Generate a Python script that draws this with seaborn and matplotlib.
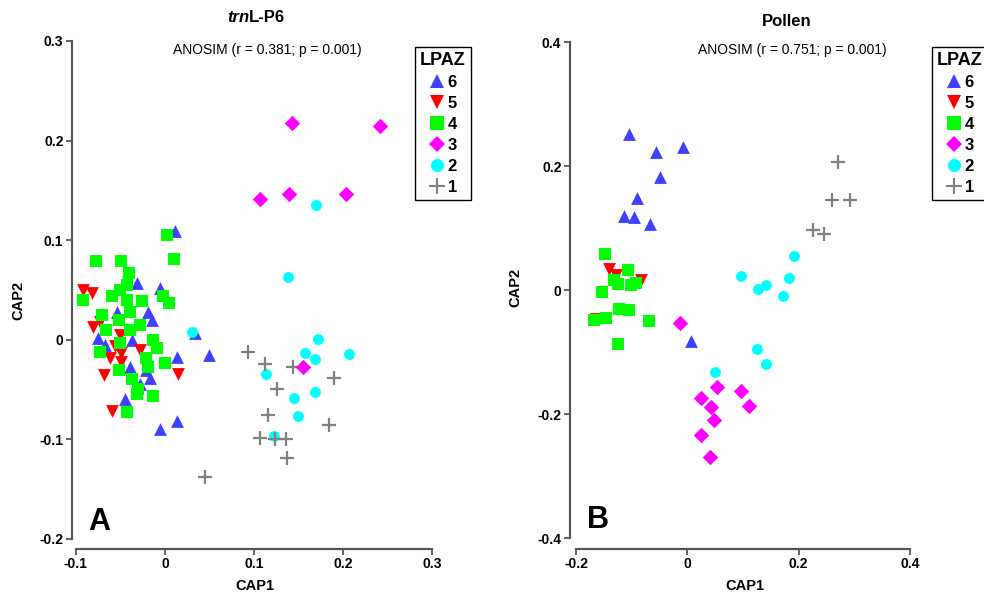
import matplotlib
matplotlib.use("Agg")
import matplotlib.pyplot as plt
import pandas as pd
import seaborn as sns
from matplotlib.lines import Line2D
from matplotlib import font_manager

# ---------------- data ----------------
zones = ["6", "5", "4", "3", "2", "1"]
zone_colors = {"6": "#4040FF", "5": "#FF0000", "4": "#00FF00",
               "3": "#FF00FF", "2": "#00FFFF", "1": "#808080"}
zone_markers = {"6": "^", "5": "v", "4": "s", "3": "D", "2": "o", "1": "+"}
zone_sizes = {"6": 85, "5": 85, "4": 70, "3": 62, "2": 62, "1": 100}
legend_msize = {"6": 10, "5": 10, "4": 9.5, "3": 8.5, "2": 9.5, "1": 11}
draw_order = ["6", "5", "4", "2", "1", "3"]

# trnL-P6 CAP scores by zone
trnl_z6_x = [0.011, -0.032, -0.006, -0.054, -0.019, -0.015, -0.075, -0.037, 0.013, 0.049,
             0.034, -0.039, -0.021, -0.028, -0.045, -0.006, 0.013, -0.067, -0.017]
trnl_z6_y = [0.109, 0.057, 0.052, 0.028, 0.028, 0.020, 0.002, 0.000, -0.017, -0.015,
             0.007, -0.027, -0.030, -0.044, -0.059, -0.090, -0.082, -0.005, -0.038]
trnl_z5_x = [-0.092, -0.082, -0.081, -0.073, -0.062, -0.056, -0.049, -0.049, -0.028,
             -0.069, 0.015, -0.060, -0.051]
trnl_z5_y = [0.050, 0.047, 0.013, 0.018, -0.018, -0.006, -0.013, -0.022, -0.010,
             -0.035, -0.034, -0.071, 0.005]
trnl_z4_x = [-0.078, -0.049, 0.010, -0.041, -0.043, -0.051, -0.092, -0.060, -0.043, -0.026,
             -0.002, 0.004, -0.071, -0.039, -0.052, -0.066, -0.028, -0.039, -0.051, -0.073,
             -0.013, -0.009, -0.021, 0.000, -0.052, -0.019, -0.037, -0.030, -0.032, -0.014,
             -0.043, 0.002]
trnl_z4_y = [0.079, 0.079, 0.081, 0.067, 0.055, 0.050, 0.040, 0.044, 0.040, 0.039,
             0.044, 0.037, 0.025, 0.028, 0.020, 0.010, 0.015, 0.010, -0.003, -0.012,
             0.000, -0.008, -0.018, -0.023, -0.030, -0.027, -0.039, -0.049, -0.054, -0.056,
             -0.072, 0.105]
trnl_z3_x = [0.143, 0.242, 0.107, 0.139, 0.203, 0.155]
trnl_z3_y = [0.218, 0.215, 0.141, 0.146, 0.146, -0.027]
trnl_z2_x = [0.170, 0.138, 0.030, 0.172, 0.157, 0.169, 0.207, 0.113, 0.145, 0.169, 0.149, 0.123]
trnl_z2_y = [0.135, 0.063, 0.008, 0.001, -0.013, -0.019, -0.014, -0.034, -0.058, -0.052,
             -0.077, -0.097]
trnl_z1_x = [0.093, 0.112, 0.144, 0.190, 0.126, 0.116, 0.184, 0.107, 0.124, 0.136, 0.137, 0.045]
trnl_z1_y = [-0.012, -0.024, -0.027, -0.038, -0.049, -0.076, -0.086, -0.099, -0.100, -0.100,
             -0.119, -0.138]

# Pollen CAP scores by zone
pol_z6_x = [-0.105, -0.056, -0.007, -0.049, -0.090, -0.114, -0.095, -0.067, 0.007]
pol_z6_y = [0.252, 0.222, 0.230, 0.182, 0.148, 0.120, 0.118, 0.106, -0.082]
pol_z5_x = [-0.140, -0.128, -0.083, -0.164]
pol_z5_y = [0.034, 0.024, 0.016, -0.047]
pol_z4_x = [-0.148, -0.107, -0.131, -0.124, -0.101, -0.092, -0.154, -0.122, -0.104, -0.146,
            -0.168, -0.068, -0.125]
pol_z4_y = [0.058, 0.032, 0.016, 0.010, 0.008, 0.012, -0.003, -0.031, -0.033, -0.045,
            -0.049, -0.050, -0.087]
pol_z3_x = [-0.013, 0.054, 0.025, 0.097, 0.043, 0.111, 0.048, 0.024, 0.041]
pol_z3_y = [-0.054, -0.156, -0.174, -0.163, -0.189, -0.187, -0.210, -0.234, -0.269]
pol_z2_x = [0.049, 0.097, 0.127, 0.141, 0.171, 0.183, 0.192, 0.126, 0.141]
pol_z2_y = [-0.133, 0.023, 0.001, 0.008, -0.009, 0.019, 0.055, -0.095, -0.119]
pol_z1_x = [0.270, 0.259, 0.292, 0.226, 0.246]
pol_z1_y = [0.206, 0.145, 0.145, 0.096, 0.090]

trnl_xticks = [-0.1, 0, 0.1, 0.2, 0.3]
trnl_xlabels = ["-0.1", "0", "0.1", "0.2", "0.3"]
trnl_yticks = [-0.2, -0.1, 0, 0.1, 0.2, 0.3]
trnl_ylabels = ["-0.2", "-0.1", "0", "0.1", "0.2", "0.3"]
pol_xticks = [-0.2, 0, 0.2, 0.4]
pol_xlabels = ["-0.2", "0", "0.2", "0.4"]
pol_yticks = [-0.4, -0.2, 0, 0.2, 0.4]
pol_ylabels = ["-0.4", "-0.2", "0", "0.2", "0.4"]

anosim_trnl = "ANOSIM (r = 0.381; p = 0.001)"
anosim_pol = "ANOSIM (r = 0.751; p = 0.001)"


def frame(panel, coords):
    rows = []
    for z, (xs, ys) in coords.items():
        for x, y in zip(xs, ys):
            rows.append({"panel": panel, "zone": z, "CAP1": x, "CAP2": y})
    return pd.DataFrame(rows)


df = pd.concat([
    frame("trnL", {"6": (trnl_z6_x, trnl_z6_y), "5": (trnl_z5_x, trnl_z5_y),
                   "4": (trnl_z4_x, trnl_z4_y), "3": (trnl_z3_x, trnl_z3_y),
                   "2": (trnl_z2_x, trnl_z2_y), "1": (trnl_z1_x, trnl_z1_y)}),
    frame("Pollen", {"6": (pol_z6_x, pol_z6_y), "5": (pol_z5_x, pol_z5_y),
                     "4": (pol_z4_x, pol_z4_y), "3": (pol_z3_x, pol_z3_y),
                     "2": (pol_z2_x, pol_z2_y), "1": (pol_z1_x, pol_z1_y)}),
], ignore_index=True)

# ---------------- style ----------------
sns.set_style("white")
available = {f.name for f in font_manager.fontManager.ttflist}
NARROW = "Liberation Sans Narrow" if "Liberation Sans Narrow" in available else "Liberation Sans"
REG = "Liberation Sans"
plt.rcParams["font.family"] = [REG, "DejaVu Sans"]
plt.rcParams["text.color"] = "black"
plt.rcParams["xtick.color"] = "black"
plt.rcParams["ytick.color"] = "black"
SPINE = "#555555"

W, H = 984, 599
fig = plt.figure(figsize=(W / 100, H / 100), dpi=100)
axA = fig.add_axes([76 / W, 1 - 539 / H, 356 / W, 498 / H])
axB = fig.add_axes([576 / W, 1 - 538 / H, 334 / W, 496 / H])


def draw_panel(ax, panel, xlim, ylim, xt, xl, yt, yl, yoff, xoff):
    sub = df[df["panel"] == panel]
    for z in draw_order:
        d = sub[sub["zone"] == z]
        sns.scatterplot(data=d, x="CAP1", y="CAP2", ax=ax, legend=False,
                        color=zone_colors[z], marker=zone_markers[z], s=zone_sizes[z],
                        linewidth=1.6 if z == "1" else 0, clip_on=False)
    ax.set_xlim(*xlim)
    ax.set_ylim(*ylim)
    ax.set_xticks(xt)
    ax.set_xticklabels(xl)
    ax.set_yticks(yt)
    ax.set_yticklabels(yl)
    ax.set_xlabel("")
    ax.set_ylabel("")
    for s in ("top", "right"):
        ax.spines[s].set_visible(False)
    ax.spines["left"].set_position(("outward", yoff))
    ax.spines["bottom"].set_position(("outward", xoff))
    for s in ("left", "bottom"):
        ax.spines[s].set_color(SPINE)
        ax.spines[s].set_linewidth(1.6)
    ax.tick_params(axis="both", bottom=True, left=True, direction="out", length=4,
                   width=1.3, color=SPINE, labelcolor="black", pad=2, labelsize=10)
    for lbl in ax.get_xticklabels() + ax.get_yticklabels():
        lbl.set_family(NARROW)
        lbl.set_fontweight("bold")
    ax.patch.set_alpha(0)


draw_panel(axA, "trnL", (-0.1, 0.3), (-0.2, 0.3), trnl_xticks, trnl_xlabels,
           trnl_yticks, trnl_ylabels, 3, 7)
draw_panel(axB, "Pollen", (-0.2, 0.4), (-0.4, 0.4), pol_xticks, pol_xlabels,
           pol_yticks, pol_ylabels, 4.5, 8)


def ftext(px, py, s, **kw):
    return fig.text(px / W, 1 - py / H, s, **kw)


# titles: italic gene prefix followed by upright suffix, centred as one string
renderer = fig.canvas.get_renderer()
t1 = ftext(0, 17, "trn", fontsize=12, fontweight="bold", style="italic", va="center")
t2 = ftext(0, 17, "L-P6", fontsize=12, fontweight="bold", va="center")
w1 = t1.get_window_extent(renderer).width
w2 = t2.get_window_extent(renderer).width
x0 = 256 - (w1 + w2) / 2
t1.set_x(x0 / W)
t2.set_x((x0 + w1) / W)
ftext(787, 22, "Pollen", fontsize=12, fontweight="bold", ha="center", va="center")
ftext(267, 50, anosim_trnl, fontsize=10, ha="center", va="center")
ftext(792, 50, anosim_pol, fontsize=10, ha="center", va="center")

# axis labels
for px, py in [(18, 300), (515, 287)]:
    ftext(px, py, "CAP2", rotation=90, fontsize=10.5, fontweight="bold",
          family=NARROW, ha="center", va="center")
for px, py in [(255, 586), (745, 586)]:
    ftext(px, py, "CAP1", fontsize=10.5, fontweight="bold",
          family=NARROW, ha="center", va="center")

# panel letters
ftext(99, 522, "A", fontsize=22, fontweight="bold", family=NARROW, ha="center", va="center")
ftext(598, 520, "B", fontsize=22, fontweight="bold", family=NARROW, ha="center", va="center")

# zone legends
handles = [Line2D([], [], linestyle="", marker=zone_markers[z], color=zone_colors[z],
                  markersize=legend_msize[z], markeredgewidth=1.5 if z == "1" else 0)
           for z in zones]
for lx in (415, 932):
    leg = fig.legend(handles, zones, loc="upper left",
                     bbox_to_anchor=(lx / W, 1 - 47 / H), bbox_transform=fig.transFigure,
                     title="LPAZ", fancybox=False, frameon=True, edgecolor="black",
                     framealpha=1, borderpad=0.3, handlelength=1.0, handletextpad=0.15,
                     labelspacing=0.36, borderaxespad=0,
                     prop={"family": NARROW, "weight": "bold", "size": 12})
    leg.get_frame().set_linewidth(1.0)
    title = leg.get_title()
    title.set_fontweight("bold")
    title.set_fontsize(13)
    title.set_family(REG)
    title.set_color("black")
    for t in leg.get_texts():
        t.set_color("black")

fig.savefig("out.png", dpi=100)
